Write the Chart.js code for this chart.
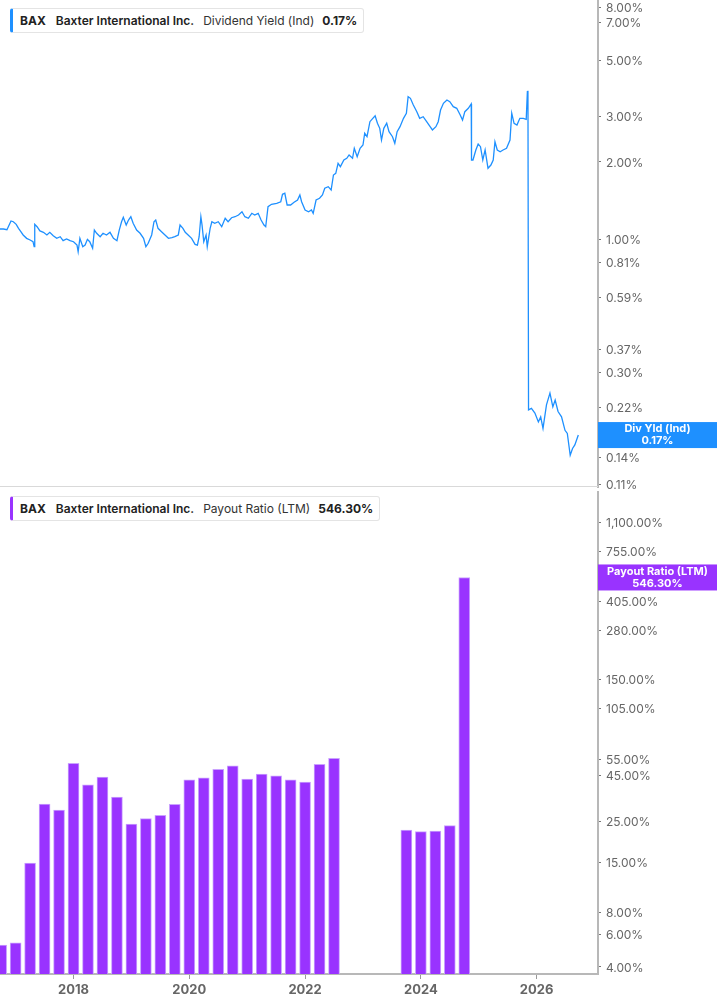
<!DOCTYPE html>
<html>
<head>
<meta charset="utf-8">
<script src="https://cdn.jsdelivr.net/npm/chart.js@4.4.1/dist/chart.umd.min.js"></script>
<style>
html,body{margin:0;padding:0;background:#fff;}
body{width:717px;height:1005px;position:relative;overflow:hidden;font-family:Inter,"Noto Sans",sans-serif;}
.divider{position:absolute;left:0;top:486px;width:598px;height:1px;background:#d9d9d9;}
.legend{position:absolute;left:10px;height:23px;border:1px solid #e4e4e4;border-left:3px solid;border-radius:3px;background:#fff;
  font-size:12px;line-height:23px;color:#222;padding:0 6px 0 7px;white-space:nowrap;}
.legend b{font-weight:700;}
.legend .co{font-weight:600;margin-left:10px;}
.legend .ser{font-weight:400;margin-left:9px;color:#333;}
.legend .val{font-weight:700;margin-left:8px;}
</style>
</head>
<body>
<canvas id="yield_chart" width="717" height="500" style="position:absolute;left:0;top:0;"></canvas>
<div class="divider"></div>
<canvas id="payout_chart" width="717" height="518" style="position:absolute;left:0;top:487px;"></canvas>
<div class="legend" style="top:8px;border-left-color:#1e90ff"><b>BAX</b><span class="co">Baxter International Inc.</span><span class="ser">Dividend Yield (Ind)</span><span class="val">0.17%</span></div>
<div class="legend" style="top:496px;border-left-color:#9933ff"><b>BAX</b><span class="co">Baxter International Inc.</span><span class="ser">Payout Ratio (LTM)</span><span class="val">546.30%</span></div>
<script>
// dividend yield (%), dates as decimal years
const yieldDates = [2016.73,2016.79,2016.85,2016.87,2016.92,2016.96,2017.01,2017.05,2017.09,2017.13,
  2017.19,2017.25,2017.30,2017.32,2017.33,2017.37,2017.42,2017.48,2017.54,2017.59,
  2017.65,2017.71,2017.77,2017.82,2017.88,2017.94,2018.00,2018.06,2018.08,2018.11,
  2018.16,2018.20,2018.24,2018.28,2018.33,2018.36,2018.40,2018.46,2018.51,2018.57,
  2018.63,2018.69,2018.75,2018.79,2018.83,2018.86,2018.91,2018.95,2018.99,2019.03,
  2019.09,2019.15,2019.21,2019.25,2019.29,2019.35,2019.39,2019.42,2019.46,2019.52,
  2019.58,2019.64,2019.70,2019.75,2019.81,2019.84,2019.89,2019.93,2019.98,2020.04,
  2020.10,2020.14,2020.17,2020.20,2020.22,2020.25,2020.29,2020.31,2020.36,2020.39,
  2020.44,2020.50,2020.56,2020.62,2020.67,2020.73,2020.79,2020.85,2020.91,2020.96,
  2021.02,2021.08,2021.13,2021.19,2021.24,2021.29,2021.32,2021.36,2021.42,2021.51,
  2021.58,2021.61,2021.65,2021.69,2021.75,2021.81,2021.87,2021.91,2021.94,2022.00,
  2022.06,2022.11,2022.14,2022.19,2022.25,2022.30,2022.34,2022.40,2022.45,2022.49,
  2022.53,2022.57,2022.61,2022.67,2022.72,2022.76,2022.82,2022.85,2022.90,2022.95,
  2023.00,2023.03,2023.07,2023.12,2023.17,2023.21,2023.25,2023.29,2023.32,2023.36,
  2023.41,2023.45,2023.51,2023.55,2023.59,2023.64,2023.70,2023.75,2023.78,2023.82,
  2023.87,2023.93,2023.98,2024.04,2024.10,2024.16,2024.20,2024.26,2024.30,2024.34,
  2024.39,2024.45,2024.50,2024.56,2024.62,2024.68,2024.72,2024.76,2024.82,2024.87,
  2024.875,2024.90,2024.95,2024.99,2025.03,2025.07,2025.11,2025.16,2025.21,2025.25,
  2025.28,2025.32,2025.37,2025.42,2025.48,2025.54,2025.57,2025.61,2025.66,2025.71,
  2025.77,2025.82,2025.84,2025.85,2025.86,2025.91,2025.97,2026.03,2026.07,2026.11,
  2026.17,2026.23,2026.28,2026.32,2026.37,2026.43,2026.49,2026.53,2026.58,2026.62,
  2026.66,2026.72];
const yieldValues = [1.094,1.094,1.087,1.111,1.176,1.168,1.141,1.101,1.068,1.037,
  1.006,0.991,0.976,0.933,1.141,1.117,1.075,1.062,1.037,1.062,
  1.030,1.006,1.021,0.985,1.000,0.985,0.976,0.947,0.892,1.006,
  0.933,0.947,0.997,0.976,0.920,1.084,1.053,1.021,1.053,1.037,
  1.062,1.006,0.985,1.084,1.168,1.215,1.134,1.186,1.222,1.152,
  1.084,1.053,1.006,0.933,0.962,1.037,1.168,1.186,1.101,1.068,
  1.037,1.006,1.012,1.021,1.037,1.134,1.101,1.062,1.037,1.006,
  0.953,0.947,1.021,1.222,1.134,0.976,1.037,0.933,1.101,1.168,
  1.152,1.168,1.117,1.205,1.168,1.211,1.222,1.241,1.278,1.222,
  1.205,1.260,1.241,1.260,1.186,1.134,1.117,1.337,1.366,1.379,
  1.398,1.495,1.509,1.358,1.358,1.391,1.420,1.485,1.398,1.298,
  1.278,1.298,1.260,1.420,1.442,1.485,1.578,1.601,1.554,1.778,
  1.806,1.976,1.917,2.035,2.067,2.129,2.067,2.261,2.097,2.261,
  2.329,2.588,2.510,2.872,2.961,3.031,2.831,2.706,2.436,2.706,
  2.831,2.625,2.510,2.365,2.625,2.746,2.961,3.097,3.596,3.544,
  3.337,3.143,2.961,3.004,2.872,2.746,2.666,2.746,2.872,3.190,
  3.389,3.491,3.438,3.287,3.240,3.050,2.916,3.143,3.240,3.368,
  2.035,2.035,2.227,2.350,2.294,2.035,2.227,1.889,1.945,2.035,
  2.399,2.227,2.193,2.227,2.261,2.436,3.097,2.831,2.788,2.961,
  2.961,2.935,3.762,3.796,0.215,0.218,0.209,0.193,0.202,0.182,
  0.225,0.250,0.221,0.235,0.212,0.202,0.179,0.174,0.143,0.152,
  0.157,0.1715];

// payout ratio LTM (%), quarter ends; null = not shown
const payoutDates = [2016.75,2017.00,2017.25,2017.50,2017.75,2018.00,2018.25,2018.50,2018.75,2019.00,
  2019.25,2019.50,2019.75,2020.00,2020.25,2020.50,2020.75,2021.00,2021.25,2021.50,
  2021.75,2022.00,2022.25,2022.50,2022.75,2023.00,2023.25,2023.50,2023.75,2024.00,
  2024.25,2024.50,2024.75];
const payoutValues = [5.28,5.43,14.86,31.3,29.0,52.3,39.9,44.0,34.2,24.3,
  26.0,27.1,31.2,42.4,43.6,48.5,50.7,42.9,45.7,44.7,
  42.4,41.3,51.6,55.7,null,null,null,null,22.5,22.1,
  22.2,23.8,546.3];

const yieldTicks = [0.11,0.14,0.22,0.30,0.37,0.59,0.81,1,2,3,5,7,8];
const payoutTicks = [4,6,8,15,25,45,55,105,150,280,405,755,1100];
const yearTicks = [2018,2020,2022,2024,2026];

const X_MIN = 2016.73, X_MAX = 2027.06;
const AXIS_W = 119;
const BLUE = '#1e90ff', PURPLE = '#9933ff';

function pct(v){
    return v.toLocaleString('en-US',{minimumFractionDigits:2,maximumFractionDigits:2})+'%';
}

// tag on the right axis with the latest value
const lastValueTag = {
    id: 'lastValueTag',
    afterDraw(chart, args, opts){
        const {ctx, chartArea} = chart;
        const y = chart.scales.y.getPixelForValue(opts.value);
        ctx.save();
        ctx.fillStyle = opts.color;
        ctx.fillRect(chartArea.right, y-13, chart.width-chartArea.right, 26);
        ctx.fillStyle = '#fff';
        ctx.font = '700 11px Inter';
        ctx.textAlign = 'center';
        ctx.textBaseline = 'middle';
        const cx = (chartArea.right+chart.width)/2;
        ctx.fillText(opts.title, cx, y-6);
        ctx.fillText(pct(opts.value), cx, y+6);
        ctx.restore();
    }
};

function yAxis(min, max, ticks){
    return {
        type: 'logarithmic',
        position: 'right',
        min: min,
        max: max,
        grid: {drawOnChartArea: false, drawTicks: true, tickLength: 3, tickColor: '#777'},
        border: {display: true, color: '#b8b8b8', width: 2},
        ticks: {
            color: '#666',
            padding: 5,
            labelOffset: 1,
            font: {family: 'Inter', size: 12},
            callback: (v)=>pct(v)
        },
        afterBuildTicks: (scale)=>{ scale.ticks = ticks.map(v=>({value: v})); },
        afterFit: (scale)=>{ scale.width = AXIS_W; scale.paddingTop = 0; scale.paddingBottom = 0; }
    };
}

new Chart(document.getElementById('yield_chart'), {
    type: 'line',
    data: {
        datasets: [{
            label: 'Dividend Yield (Ind)',
            data: yieldDates.map((d,i)=>({x: d, y: yieldValues[i]})),
            borderColor: BLUE,
            borderWidth: 1.3,
            pointRadius: 0,
            tension: 0
        }]
    },
    options: {
        responsive: false,
        animation: false,
        layout: {padding: {top: 0, bottom: 13, left: 0, right: 0}},
        plugins: {
            legend: {display: false},
            tooltip: {enabled: false},
            lastValueTag: {value: yieldValues[yieldValues.length-1], color: BLUE, title: 'Div Yld (Ind)'}
        },
        scales: {
            x: {type: 'linear', min: X_MIN, max: X_MAX, display: false},
            y: yAxis(0.1075, 8.58, yieldTicks)
        }
    },
    plugins: [lastValueTag]
});

new Chart(document.getElementById('payout_chart'), {
    type: 'bar',
    data: {
        datasets: [{
            label: 'Payout Ratio (LTM)',
            data: payoutDates.map((d,i)=>({x: d, y: payoutValues[i]})),
            backgroundColor: PURPLE,
            borderColor: '#caa2ff',
            borderWidth: 1,
            barThickness: 11
        }]
    },
    options: {
        responsive: false,
        animation: false,
        layout: {padding: {top: 5, bottom: 0, left: 0, right: 0}},
        plugins: {
            legend: {display: false},
            tooltip: {enabled: false},
            lastValueTag: {value: payoutValues[payoutValues.length-1], color: PURPLE, title: 'Payout Ratio (LTM)'}
        },
        scales: {
            x: {
                type: 'linear',
                min: X_MIN,
                max: X_MAX,
                offset: false,
                grid: {offset: false, drawOnChartArea: false, drawTicks: true, tickLength: 5, tickColor: '#999'},
                border: {display: true, color: '#b8b8b8', width: 2},
                ticks: {
                    color: '#666',
                    padding: 3,
                    maxRotation: 0,
                    autoSkip: false,
                    font: {family: 'Inter', size: 13, weight: '700'},
                    callback: (v)=>String(v)
                },
                afterBuildTicks: (scale)=>{ scale.ticks = yearTicks.map(v=>({value: v})); },
                afterFit: (scale)=>{ scale.height = 31; scale.paddingLeft = 0; scale.paddingRight = 0; }
            },
            y: yAxis(3.66, 1607, payoutTicks)
        }
    },
    plugins: [lastValueTag]
});
</script>
</body>
</html>
